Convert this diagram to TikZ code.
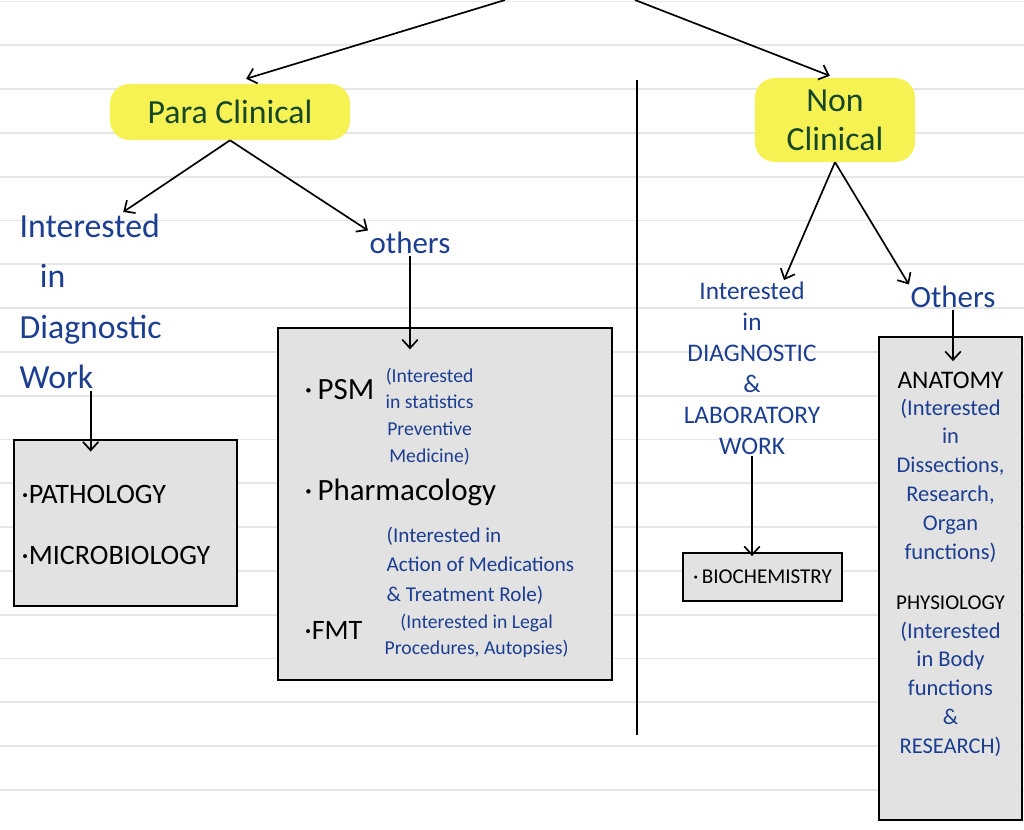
\documentclass[tikz,border=0pt]{standalone}
\usepackage{fontspec}
\setmainfont{Carlito}
\usepackage{tikz}
\usetikzlibrary{arrows.meta,shapes,calc}
\definecolor{inkblue}{RGB}{28,62,145}
\definecolor{inkgreen}{RGB}{22,72,40}
\definecolor{hlyellow}{RGB}{246,242,84}
\definecolor{boxgray}{RGB}{226,226,226}
\definecolor{ruleline}{RGB}{230,230,230}
\tikzset{
  hl/.style={fill=hlyellow,rounded corners=14pt,text=inkgreen,inner sep=8pt,font=\fontsize{24}{28}\selectfont},
  note/.style={text=inkblue,align=center,inner sep=1pt},
  catbox/.style={draw,fill=boxgray,line width=1.6pt,rectangle},
  item/.style={anchor=west,inner sep=1pt},
}

\begin{document}
\begin{tikzpicture}[x=0.025cm,y=-0.025cm,>={Straight Barb[length=6pt,width=11pt]}]
		\fill[white] (0,0) rectangle (1024,829);
		\useasboundingbox (0,0) rectangle (1024,829);
		\foreach \k in {0,...,18}
			\draw[ruleline,line width=1.4pt] (0,1.5+43.8*\k) -- (1024,1.5+43.8*\k);

		\coordinate (topL) at (505,0);
		\coordinate (topR) at (635,0);
		\coordinate (divtop) at (637,80);
		\coordinate (divbot) at (637,735);

		\node (para)    [hl,minimum width=6cm,minimum height=1.4cm] at (230,112) {Para Clinical};
		\node (nonclin) [hl,align=center,minimum width=4cm] at (835,120) {Non\\Clinical};

		\node (diag)    [note,align=left,anchor=north west,font=\fontsize{24}{36}\selectfont] at (18,212) {Interested\\\hspace{0.6em}in\\Diagnostic\\Work};
		\node (others1) [note,font=\fontsize{22}{26}\selectfont] at (410,243) {others};
		\node (lab)     [note,font=\fontsize{18}{22}\selectfont] at (752,368) {Interested\\in\\DIAGNOSTIC\\\&\\LABORATORY\\WORK};
		\node (others2) [note,font=\fontsize{22}{26}\selectfont] at (953,297) {Others};

		\node (pathbox) [catbox,minimum width=5.575cm,minimum height=4.15cm] at (125.5,523) {};
		\node (medbox)  [catbox,minimum width=8.35cm,minimum height=8.8cm] at (445,504) {};
		\node (biobox)  [catbox,minimum width=3.975cm,minimum height=1.2cm] at (762.5,577) {};
		\node (anatbox) [catbox,minimum width=3.575cm,minimum height=12.075cm] at (950.5,578.5) {};

		\node (patho) [item,font=\fontsize{20}{24}\selectfont] at (20,494) {·PATHOLOGY};
		\node (micro) [item,font=\fontsize{20}{24}\selectfont] at (20,555) {·MICROBIOLOGY};

		\node (psm)       [item,font=\fontsize{22}{26}\selectfont] at (303,390) {·\,PSM};
		\node (psmnote)   [note,anchor=north west,font=\fontsize{14}{19}\selectfont] at (384,366) {(Interested\\in statistics\\Preventive\\Medicine)};
		\node (pharm)     [item,font=\fontsize{22}{26}\selectfont] at (303,492) {·\,Pharmacology};
		\node (pharmnote) [note,anchor=north west,align=left,font=\fontsize{15}{21}\selectfont] at (385,525) {(Interested in\\Action of Medications\\\&\ Treatment Role)};
		\node (fmt)       [item,font=\fontsize{20}{24}\selectfont] at (303,630) {·FMT};
		\node (fmtnote)   [note,anchor=north west,font=\fontsize{14}{19}\selectfont] at (383,612) {(Interested in Legal\\Procedures, Autopsies)};

		\node (bio) [font=\fontsize{15}{18}\selectfont] at (762.5,577) {·\,BIOCHEMISTRY};

		\node (anat)     [font=\fontsize{18}{22}\selectfont] at (950.5,380) {ANATOMY};
		\node (anatnote) [note,anchor=north,font=\fontsize{16}{20.5}\selectfont] at (950.5,397) {(Interested\\in\\Dissections,\\Research,\\Organ\\functions)};
		\node (phys)     [font=\fontsize{15}{18}\selectfont] at (950.5,603) {PHYSIOLOGY};
		\node (physnote) [note,anchor=north,font=\fontsize{16}{20.5}\selectfont] at (950.5,620) {(Interested\\in Body\\functions\\\&\\RESEARCH)};

		\draw [line width=1.4pt] (divtop) -- (divbot);
		\draw [->,line width=1.2pt,shorten >=12pt] (topL) -- (para.north);
		\draw [->,line width=1.2pt,shorten >=4pt] (topR) -- (nonclin.north);
		\draw [->,line width=1.2pt] (para.south) -- (diag.70);
		\draw [->,line width=1.2pt] (para.south) -- (others1.north west);
		\draw [->,line width=1.2pt] (nonclin.south) -- (lab.70);
		\draw [->,line width=1.2pt] (nonclin.south) -- (others2.north west);
		\draw [->,line width=1.2pt,shorten >=-9pt] (diag.south) -- (diag.south |- pathbox.north);
		\draw [->,line width=1.2pt,shorten >=-16pt] (others1.south) -- (others1.south |- medbox.north);
		\draw [->,line width=1.2pt,shorten >=-3pt] (lab.south) -- (lab.south |- biobox.north);
		\draw [->,line width=1.2pt,shorten >=-18pt] (others2.south) -- (others2.south |- anatbox.north);
	\end{tikzpicture}
\end{document}
